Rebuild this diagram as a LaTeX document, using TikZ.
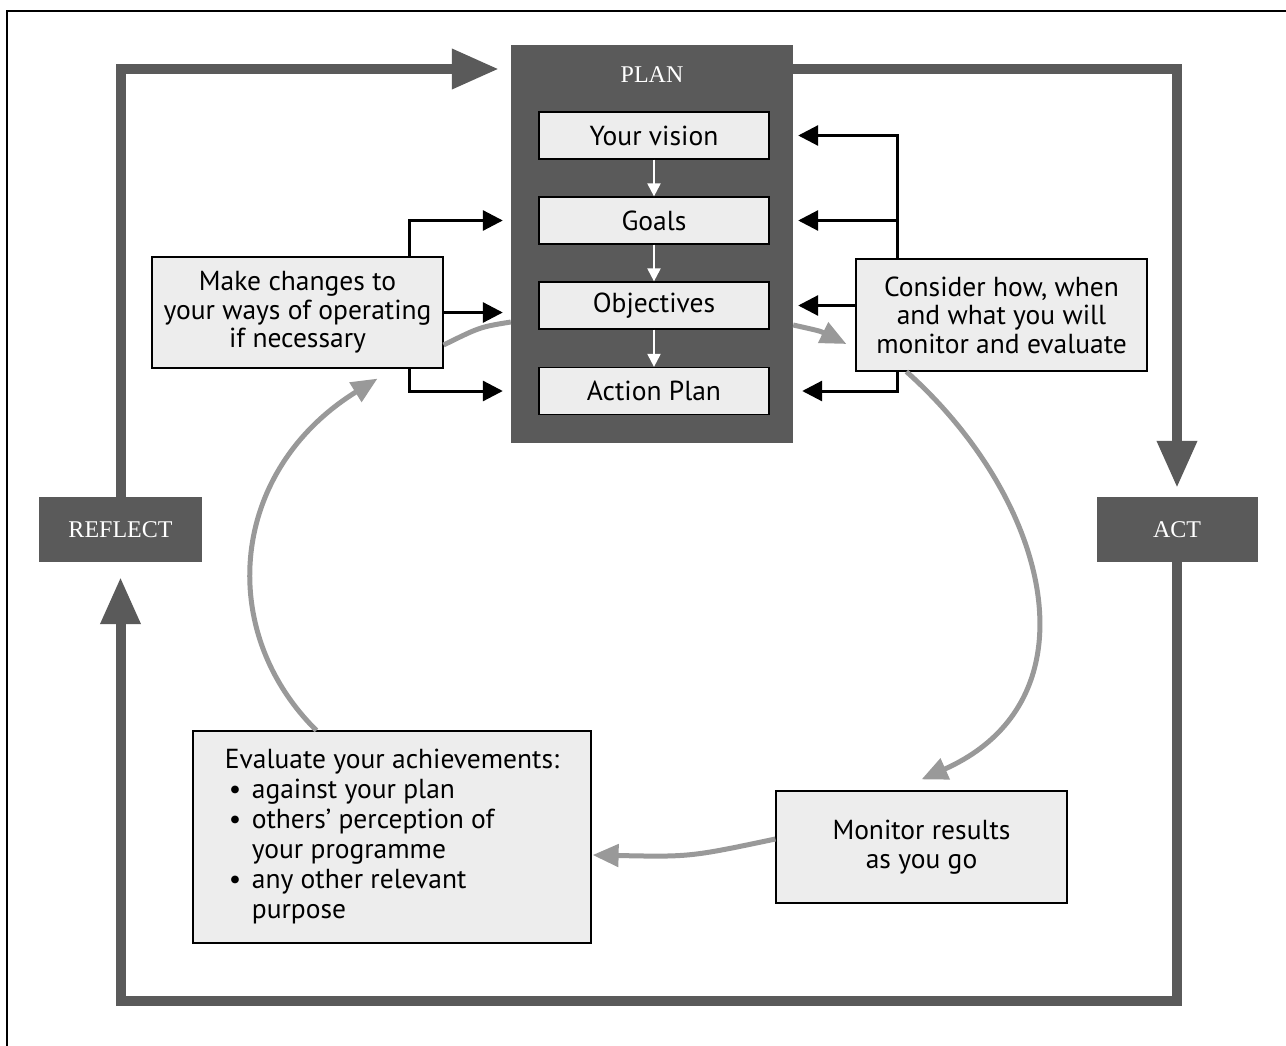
\documentclass[tikz,border=0pt]{standalone}
\usepackage{fontspec}
\setmainfont{PT Sans}
\newfontfamily\capsfont{Liberation Serif}
\usetikzlibrary{arrows.meta,positioning}

\definecolor{darkgrey}{HTML}{5A5A5A}
\definecolor{boxfill}{HTML}{EDEDED}
\definecolor{loopgrey}{HTML}{999999}

\newcommand\evbullet{\makebox[27pt][l]{\hspace*{4pt}\textbullet}}
\newcommand\evindent{\hspace*{27pt}}

\tikzset{
  stage/.style={fill=darkgrey, text=white, inner sep=0pt, font=\capsfont\fontsize{24}{26}\selectfont},
  stepbox/.style={draw=black, line width=1.2pt, fill=boxfill, inner sep=0pt, align=center, font=\fontsize{27.5}{28.5}\selectfont},
  conn/.style={line width=3pt, -{Triangle[length=20pt,width=20pt]}},
  whitearr/.style={white, line width=2pt, -{Triangle[length=13pt,width=13pt]}},
  bigarr/.style={darkgrey, line width=10pt, -{Triangle[length=47pt,width=38pt]}},
  loopline/.style={loopgrey, line width=5pt},
  looparr/.style={loopline, -{Triangle[length=26pt,width=22pt]}}
}

\begin{document}
\begin{tikzpicture}[x=1pt,y=-1pt]
\useasboundingbox (0,0) rectangle (1286,1046);
%\draw [lightgray](0,0) grid (1286,1046);
\draw [line width=1.5pt](7,1046) -- (7,11) -- (1286,11);

\coordinate (toprow) at (0,69);
\coordinate (botrow) at (0,1001);
\coordinate (rjoin) at (897,0);
\coordinate (ljoin) at (409,0);

% plan column
\node [fill=darkgrey, minimum width=282pt, minimum height=398pt, inner sep=0pt] (plan) at (652,244){};
\node [text=white, font=\capsfont\fontsize{24}{26}\selectfont] (plantitle) at (652,75){PLAN};
\node [stepbox, minimum width=230pt, minimum height=47pt] (vision) at (654,135.5){Your vision};
\node [stepbox, minimum width=230pt, minimum height=47pt] (goals) at (654,220.5){Goals};
\node [stepbox, minimum width=230pt, minimum height=47pt] (objectives) at (654,305.5){Objectives};
\node [stepbox, minimum width=230pt, minimum height=47pt] (actionplan) at (654,391){Action Plan};

\foreach \a/\b in {vision/goals, goals/objectives, objectives/actionplan}
  \draw [whitearr](\a) -- (\b);

% side boxes
\node [stepbox, minimum width=291pt, minimum height=111pt] (changes) at (297.5,312.5){Make changes to\\your ways of operating\\if necessary};
\node [stepbox, minimum width=291pt, minimum height=112pt] (consider) at (1001.5,315){Consider how, when\\and what you will\\monitor and evaluate};
\node [stepbox, minimum width=291pt, minimum height=112pt] (monitor) at (921.5,847){Monitor results\\as you go};
\node [stepbox, minimum width=398pt, minimum height=212pt, align=left, font=\fontsize{27.5}{30}\selectfont] (evaluate) at (392,837){Evaluate your achievements:\\
\evbullet against your plan\\
\evbullet others’ perception of\\
\evindent your programme\\
\evbullet any other relevant\\
\evindent purpose};

\node [stage, minimum width=163pt, minimum height=65pt] (reflect) at (120.5,529.5){REFLECT};
\node [stage, minimum width=161pt, minimum height=65pt] (act) at (1177,529.5){ACT};

% outer cycle
\draw [bigarr](reflect.north) |- ([xshift=-12pt]plan.west |- toprow);
\draw [bigarr](plan.east |- toprow) -| ([yshift=9pt]act.north);
\draw [bigarr](act.south) |- (reflect |- botrow) -- ([yshift=-15pt]reflect.south);

% black links into the plan
\draw [conn](rjoin |- consider.north) |- ([xshift=5pt]plan.east |- vision);
\draw [conn]([xshift=1.5pt]rjoin |- goals) -- ([xshift=5pt]plan.east |- goals);
\draw [conn](consider.west |- objectives) -- ([xshift=5pt]plan.east |- objectives);
\draw [conn](rjoin |- consider.south) |- ([xshift=9pt]plan.east |- actionplan);

\draw [conn](ljoin |- changes.north) |- ([xshift=-8pt]plan.west |- goals);
\draw [conn](changes.east) -- ([xshift=-8pt]plan.west |- changes.east);
\draw [conn](ljoin |- changes.south) |- ([xshift=-8pt]plan.west |- actionplan);

% grey inner loop
\draw [looparr]([yshift=-81pt]plan.east) .. controls (820,331) .. ([xshift=-9pt,yshift=-29pt]consider.west);
\draw [looparr]([xshift=51pt]consider.south west) .. controls (1050,500) and (1100,700) .. ([yshift=11pt]monitor.north);
\draw [looparr]([yshift=8pt]monitor.west) .. controls (690,857) .. ([xshift=1pt,yshift=-18pt]evaluate.east);
\draw [looparr]([xshift=124pt]evaluate.north west) .. controls (215,630) and (230,470) .. ([xshift=80pt,yshift=-10pt]changes.south);
\draw [loopline]([yshift=-78pt]plan.west) .. controls (480,327) .. ([yshift=-32.5pt]changes.east);
\end{tikzpicture}
\end{document}
